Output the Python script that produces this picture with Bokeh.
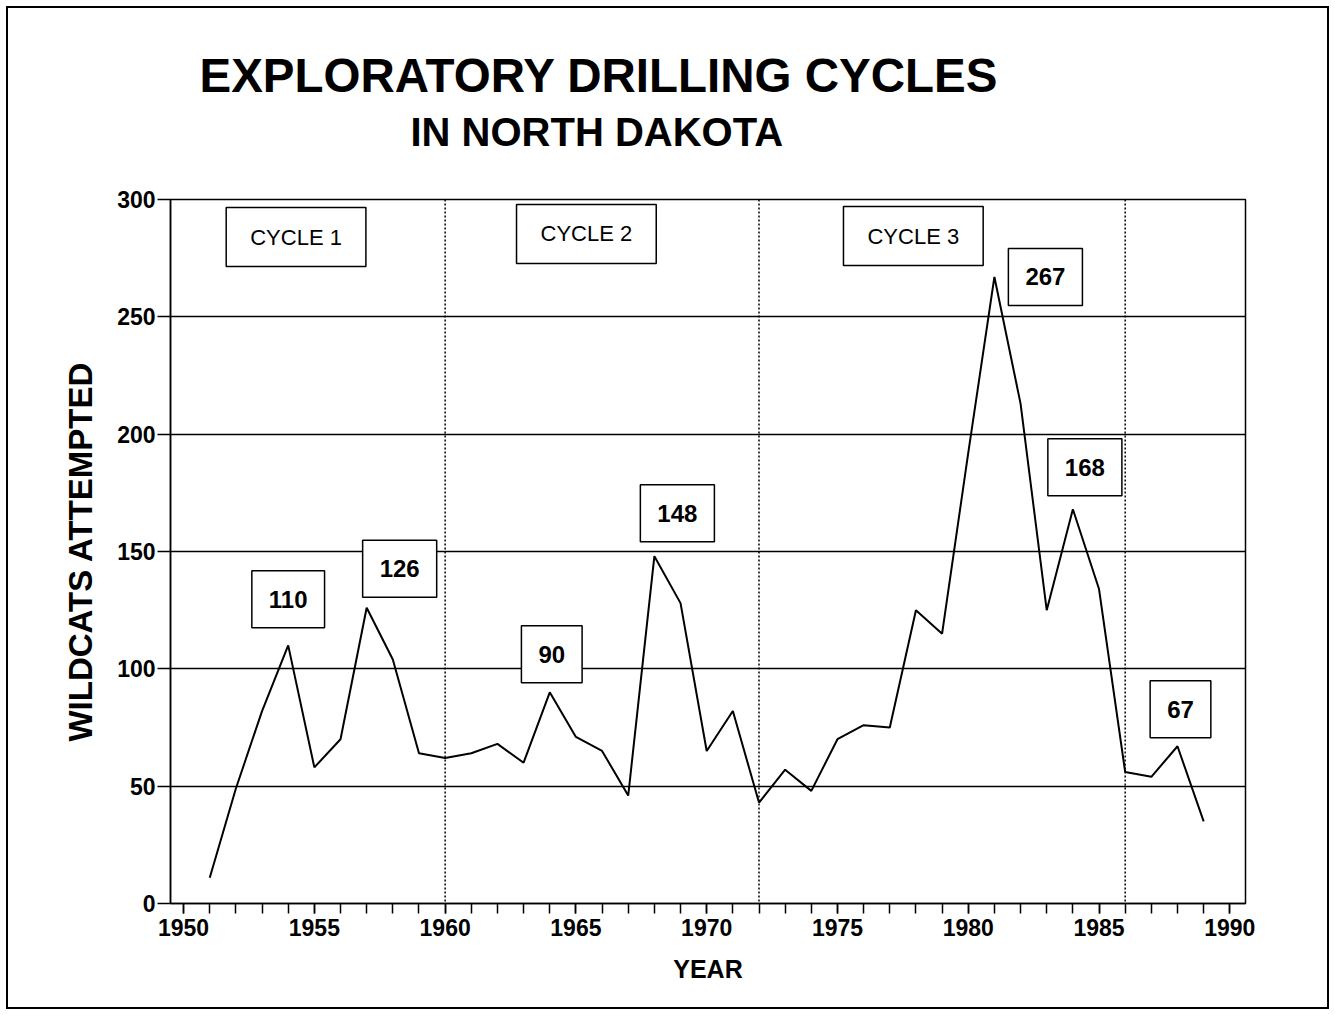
from bokeh.plotting import figure
from bokeh.models import (Range1d, FixedTicker, SingleIntervalTicker, Span, Label, Title)
from bokeh.embed import file_html
from bokeh.resources import INLINE

# ---- data ----
years = list(range(1951, 1990))
wildcats = [11, 49, 82, 110, 58, 70, 126, 104, 64, 62,
            64, 68, 60, 90, 71, 65, 46, 148, 128, 65,
            82, 43, 57, 48, 70, 76, 75, 125, 115, 192,
            267, 213, 125, 168, 134, 56, 54, 67, 35]
peak_years = [1954, 1957, 1964, 1968, 1981, 1984, 1988]
cycle_names = ["CYCLE 1", "CYCLE 2", "CYCLE 3"]
cycle_breaks = [1960, 1972, 1986]
y_ticks = [0, 50, 100, 150, 200, 250, 300]

FONT = "Liberation Sans"

p = figure(width=1335, height=1015, output_backend="svg", toolbar_location=None,
           title_location=None,
           x_range=Range1d(1949.5, 1990.6), y_range=Range1d(0, 300),
           min_border_left=170, min_border_right=90, min_border_top=199,
           min_border_bottom=112)

# outer page frame (drawn by the page element; border area left transparent)
p.styles = {"outline": "2.5px solid black", "outline-offset": "-8px",
            "background-color": "white"}
p.background_fill_color = "white"
p.border_fill_color = None
p.outline_line_color = "black"
p.outline_line_width = 1.5

# grid
p.xgrid.grid_line_color = None
p.ygrid.ticker = FixedTicker(ticks=y_ticks)
p.ygrid.grid_line_color = "black"
p.ygrid.grid_line_width = 1.5

# y axis
p.yaxis.ticker = FixedTicker(ticks=y_ticks)
p.yaxis.axis_line_color = "black"
p.yaxis.axis_line_width = 1.5
p.yaxis.major_tick_out = 13
p.yaxis.major_tick_in = 0
p.yaxis.minor_tick_line_color = None
p.yaxis.major_tick_line_width = 1.5
p.yaxis.major_label_standoff = 2
p.yaxis.major_label_text_font = FONT
p.yaxis.major_label_text_font_style = "bold"
p.yaxis.major_label_text_font_size = "23px"
p.yaxis.major_label_text_color = "black"
p.yaxis.axis_label = "WILDCATS ATTEMPTED"
p.yaxis.axis_label_text_font = FONT
p.yaxis.axis_label_text_font_style = "bold"
p.yaxis.axis_label_text_font_size = "33px"
p.yaxis.axis_label_text_color = "black"
p.yaxis.axis_label_standoff = 15

# x axis
p.xaxis.ticker = SingleIntervalTicker(interval=5, num_minor_ticks=5)
p.xaxis.axis_line_color = "black"
p.xaxis.axis_line_width = 1.5
p.xaxis.major_tick_out = 10
p.xaxis.major_tick_in = 0
p.xaxis.minor_tick_out = 10
p.xaxis.minor_tick_in = 0
p.xaxis.major_tick_line_width = 1.5
p.xaxis.minor_tick_line_width = 1.5
p.xaxis.minor_tick_line_color = "black"
p.xaxis.major_label_standoff = 5
p.xaxis.major_label_text_font = FONT
p.xaxis.major_label_text_font_style = "bold"
p.xaxis.major_label_text_font_size = "23px"
p.xaxis.major_label_text_color = "black"
p.xaxis.axis_label = "YEAR"
p.xaxis.axis_label_text_font = FONT
p.xaxis.axis_label_text_font_style = "bold"
p.xaxis.axis_label_text_font_size = "25px"
p.xaxis.axis_label_text_color = "black"
p.xaxis.axis_label_standoff = 16

# titles: spacer first (closest to the frame), then subtitle, then main title
p.add_layout(Title(text=" ", text_font_size="1px", standoff=38), "above")
p.add_layout(Title(text="IN NORTH DAKOTA", align="left", offset=240,
                   text_font=FONT, text_font_style="bold",
                   text_font_size="40px", text_color="black", standoff=10), "above")
p.add_layout(Title(text="EXPLORATORY DRILLING CYCLES", align="left", offset=29,
                   text_font=FONT, text_font_style="bold",
                   text_font_size="47.5px", text_color="black", standoff=2), "above")

# cycle separators
for yr in cycle_breaks:
    p.add_layout(Span(location=yr, dimension="height", line_color="black",
                      line_width=1.5, line_dash="2 2"))

# data line
p.line(years, wildcats, line_color="black", line_width=2)

# cycle labels
cycle_pos = [(1954.3, 284), (1965.4, 285.3), (1977.9, 284.4)]
for name, (cx, cy) in zip(cycle_names, cycle_pos):
    p.add_layout(Label(x=cx, y=cy, text=name, anchor="center",
                       text_font=FONT, text_font_size="22px",
                       text_color="black",
                       border_line_color="black", border_line_width=1.5,
                       background_fill_color="white",
                       padding=dict(left=24, right=24, top=17, bottom=17)))

# peak value labels
peak_offsets = [(0, 46), (33, 39), (2, 38), (23, 43), (51, 0), (12, 42), (3, 37)]
for yr, (dx, dy) in zip(peak_years, peak_offsets):
    v = wildcats[years.index(yr)]
    p.add_layout(Label(x=yr, y=v, text=str(v), anchor="center",
                       x_offset=dx, y_offset=dy,
                       text_font=FONT, text_font_style="bold",
                       text_font_size="24px", text_color="black",
                       border_line_color="black", border_line_width=1.5,
                       background_fill_color="white",
                       padding=dict(left=17, right=17, top=20, bottom=20)))

open("out.html", "w").write(file_html(p, INLINE))
